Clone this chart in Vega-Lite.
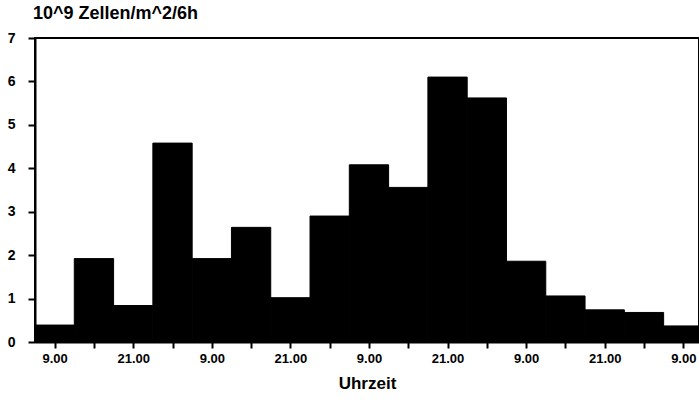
{
  "$schema": "https://vega.github.io/schema/vega-lite/v6.json",
  "width": 664,
  "height": 304,
  "autosize": {"type": "none"},
  "padding": {"left": 35, "top": 38, "right": 0, "bottom": 65},
  "background": "white",
  "title": {
    "text": "10^9 Zellen/m^2/6h",
    "anchor": "start",
    "frame": "group",
    "font": "Liberation Sans",
    "fontWeight": "bold",
    "fontSize": 18,
    "color": "black",
    "offset": 8,
    "dx": -2
  },
  "config": {
    "view": {"stroke": "black", "strokeWidth": 2},
    "axis": {
      "domainColor": "black",
      "domainWidth": 2,
      "tickColor": "black",
      "tickWidth": 2,
      "grid": false,
      "labelFont": "Liberation Sans",
      "labelFontWeight": "bold",
      "labelColor": "black",
      "titleFont": "Liberation Sans",
      "titleFontWeight": "bold",
      "titleColor": "black"
    }
  },
  "data": {
    "values": [
      {"von": 6, "bis": 12, "wert": 0.39},
      {"von": 12, "bis": 18, "wert": 1.92},
      {"von": 18, "bis": 24, "wert": 0.84},
      {"von": 24, "bis": 30, "wert": 4.58},
      {"von": 30, "bis": 36, "wert": 1.92},
      {"von": 36, "bis": 42, "wert": 2.64},
      {"von": 42, "bis": 48, "wert": 1.02},
      {"von": 48, "bis": 54, "wert": 2.9},
      {"von": 54, "bis": 60, "wert": 4.08},
      {"von": 60, "bis": 66, "wert": 3.56},
      {"von": 66, "bis": 72, "wert": 6.1},
      {"von": 72, "bis": 78, "wert": 5.62},
      {"von": 78, "bis": 84, "wert": 1.86},
      {"von": 84, "bis": 90, "wert": 1.06},
      {"von": 90, "bis": 96, "wert": 0.74},
      {"von": 96, "bis": 102, "wert": 0.68},
      {"von": 102, "bis": 108, "wert": 0.37}
    ]
  },
  "mark": {"type": "bar", "color": "black", "stroke": "black", "strokeWidth": 1, "clip": true},
  "encoding": {
    "x": {
      "field": "von",
      "type": "quantitative",
      "scale": {"domain": [6, 107.4], "nice": false, "zero": false},
      "axis": {
        "title": "Uhrzeit",
        "titleFontSize": 17,
        "titlePadding": 10,
        "values": [9, 15, 21, 27, 33, 39, 45, 51, 57, 63, 69, 75, 81, 87, 93, 99, 105],
        "labelExpr": "datum.value % 24 == 9 ? '9.00' : (datum.value % 24 == 21 ? '21.00' : '')",
        "labelFontSize": 13,
        "labelPadding": 4,
        "tickSize": 6,
        "labelOverlap": false
      }
    },
    "x2": {"field": "bis"},
    "y": {
      "field": "wert",
      "type": "quantitative",
      "scale": {"domain": [0, 7], "nice": false},
      "axis": {
        "title": null,
        "values": [0, 1, 2, 3, 4, 5, 6, 7],
        "labelFontSize": 14,
        "tickSize": 7,
        "labelPadding": 13
      }
    },
    "y2": {"datum": 0}
  }
}
